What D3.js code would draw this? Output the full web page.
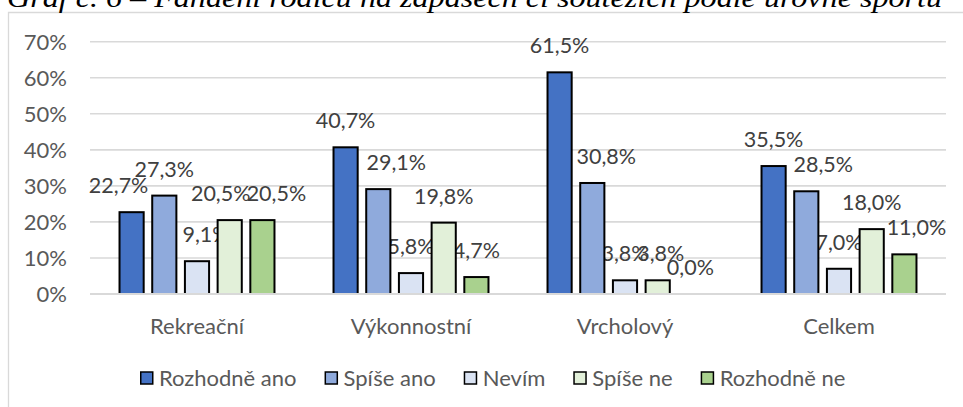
<!DOCTYPE html>
<html><head><meta charset="utf-8">
<script src="https://cdn.jsdelivr.net/npm/d3@7"></script>
<style>
html,body{margin:0;padding:0;background:#fff;overflow:hidden}
text{font-family:Lato,"Open Sans",sans-serif}
</style></head>
<body><svg id="c" width="963" height="407"></svg>
<script>
const title = "Graf č. 6 – Fandění rodičů na zápasech či soutěžích podle úrovně sportu";
const categories = ["Rekreační", "Výkonnostní", "Vrcholový", "Celkem"];
const series = ["Rozhodně ano", "Spíše ano", "Nevím", "Spíše ne", "Rozhodně ne"];
const rozhodneAno = [22.7, 40.7, 61.5, 35.5];
const spiseAno    = [27.3, 29.1, 30.8, 28.5];
const nevim       = [9.1, 5.8, 3.8, 7.0];
const spiseNe     = [20.5, 19.8, 3.8, 18.0];
const rozhodneNe  = [20.5, 4.7, 0.0, 11.0];
const yTicks = [0, 10, 20, 30, 40, 50, 60, 70];
// manual label nudges (px) as placed in the original chart, per category then series
const labelNudge = [[-13, 0, 9, -9, 14], [0, 18, 0, 0, 0], [0, 14, 0, 3, 0], [0, 17, 0, 0, 12]];
const colors = ["#4472C4", "#8FAADC", "#DAE3F3", "#E2F0D9", "#A9D18E"];

const values = [rozhodneAno, spiseAno, nevim, spiseNe, rozhodneNe];
const svg = d3.select("#c");

// chart frame
svg.append("path").attr("d", "M8.5,407 V12.5 H963").attr("fill", "none")
  .attr("stroke", "#d9d9d9").attr("stroke-width", 1.3);

// title (top clipped as in original)
svg.append("text").attr("x", 7).attr("y", 7).text(title)
  .style("font-family", "'Liberation Serif','Times New Roman',serif")
  .style("font-style", "italic").style("font-size", "27px").attr("fill", "#000")
  .attr("textLength", 935).attr("lengthAdjust", "spacingAndGlyphs");

const y = d3.scaleLinear().domain([0, 70]).range([294, 41.7]);
const x0 = d3.scaleBand().domain(categories).range([90, 946]);
const x1 = d3.scaleBand().domain(series).range([0, 163.5]).paddingInner(0.2).paddingOuter(0.1);
const groupLeft = c => x0(c) + x0.bandwidth() / 2 - 81.75;

// gridlines
svg.append("g").selectAll("line").data(yTicks.filter(t => t > 0)).join("line")
  .attr("x1", 90).attr("x2", 946).attr("y1", d => y(d)).attr("y2", d => y(d))
  .attr("stroke", "#d9d9d9").attr("stroke-width", 1.6);

// y tick labels
svg.append("g").selectAll("text").data(yTicks).join("text")
  .attr("x", 67).attr("y", d => y(d)).attr("dy", "0.36em").attr("text-anchor", "end")
  .attr("fill", "#595959").style("font-size", "22px").text(d => d + "%");

const pts = [];
categories.forEach((c, ci) => series.forEach((s, si) => pts.push({c, ci, s, si, v: values[si][ci]})));

const fmt = v => v.toFixed(1).replace(".", ",") + "%";

// data labels (drawn beneath the bars, as in the original)
svg.append("g").selectAll("text").data(pts).join("text")
  .attr("x", d => groupLeft(d.c) + x1(d.s) + x1.bandwidth() / 2 + labelNudge[d.ci][d.si])
  .attr("y", d => y(d.v) - 19).attr("text-anchor", "middle")
  .attr("fill", "#404040").style("font-size", "21.5px").text(d => fmt(d.v));

// bars
svg.append("g").selectAll("rect").data(pts.filter(d => d.v > 0)).join("rect")
  .attr("x", d => groupLeft(d.c) + x1(d.s) + 1)
  .attr("width", x1.bandwidth() - 2)
  .attr("y", d => y(d.v))
  .attr("height", d => y(0) - y(d.v))
  .attr("fill", d => colors[d.si]).attr("stroke", "#000").attr("stroke-width", 2);

// baseline axis
svg.append("line").attr("x1", 90).attr("x2", 946).attr("y1", y(0)).attr("y2", y(0))
  .attr("stroke", "#d9d9d9").attr("stroke-width", 2);

// category labels
svg.append("g").selectAll("text").data(categories).join("text")
  .attr("x", d => x0(d) + x0.bandwidth() / 2).attr("y", 334).attr("text-anchor", "middle")
  .attr("fill", "#595959").style("font-size", "22px").text(d => d);

// legend
const lg = svg.append("g");
let lx = 140;
series.forEach((s, i) => {
  const g = lg.append("g").attr("transform", `translate(${lx},0)`);
  g.append("rect").attr("x", 0.75).attr("y", 372).attr("width", 12).attr("height", 12)
    .attr("fill", colors[i]).attr("stroke", "#000").attr("stroke-width", 1.5);
  const t = g.append("text").attr("x", 19).attr("y", 386).attr("fill", "#595959")
    .style("font-size", "22px").text(s);
  lx += 19 + t.node().getComputedTextLength() + 28;
});
</script></body></html>
